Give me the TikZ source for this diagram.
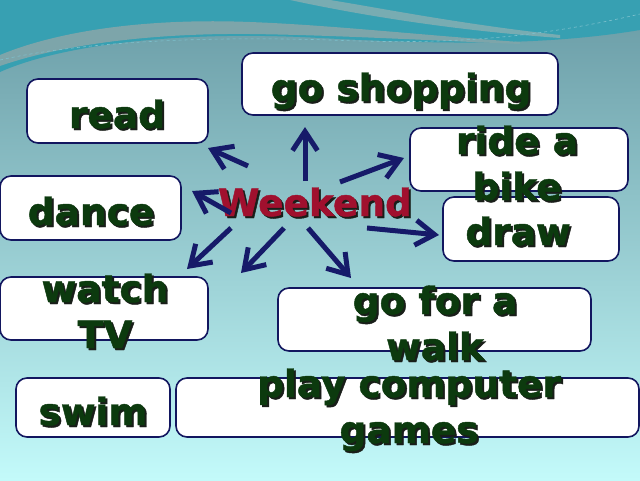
\documentclass[tikz,border=0pt]{standalone}
\usepackage{fontspec}
\setmainfont{DejaVu Sans}[BoldFeatures={FakeBold=1.2}]
\usetikzlibrary{arrows.meta}
\definecolor{txtgreen}{RGB}{12,58,14}
\definecolor{shcol}{RGB}{25,30,25}
\definecolor{wkred}{RGB}{160,16,46}
\definecolor{navy}{RGB}{22,26,105}
\definecolor{boxline}{RGB}{18,22,95}
\definecolor{bgtop}{RGB}{105,155,165}
\definecolor{bgmid}{RGB}{148,202,207}
\definecolor{bgbot}{RGB}{195,250,250}
\definecolor{tealband}{RGB}{55,160,178}
\definecolor{swoosh}{RGB}{125,165,170}
\definecolor{swooshb}{RGB}{120,172,178}
\newcommand\shtxt[1]{\leavevmode\rlap{\kern2pt\raisebox{-2pt}{\color{shcol}#1}}#1}
\begin{document}
\begin{tikzpicture}[x=1pt,y=-1pt,
  box/.style={draw=boxline, line width=1.6pt, fill=white, rounded corners=11pt, inner sep=0pt},
  lbl/.style={font=\fontsize{37.5}{46}\selectfont\bfseries, text=txtgreen, align=center, inner sep=0pt, anchor=base},
  wk/.style={lbl, text=wkred},
  arr/.style={draw=navy, line width=5pt, -{Straight Barb[length=19pt,width=25pt]}}]
\useasboundingbox (0,0) rectangle (640,480);
% background
\shade[top color=bgtop, middle color=bgmid, bottom color=bgbot] (0,0) rectangle (640,480);
\fill[tealband] (0,0) -- (0,72) .. controls (60,45) and (180,30) .. (320,38) .. controls (450,45) and (550,45) .. (640,30) -- (640,0) -- cycle;
\fill[swoosh] (0,55) .. controls (60,30) and (150,18) .. (250,22) .. controls (330,25) and (420,35) .. (520,42) -- (520,44) .. controls (420,40) and (330,35) .. (250,34) .. controls (150,33) and (60,45) .. (0,66) -- cycle;
\fill[swooshb] (290,0) .. controls (360,15) and (450,30) .. (560,38) -- (560,35) .. controls (460,24) and (380,8) .. (330,0) -- cycle;
\draw[dashed, white!35!tealband, line width=0.6pt] (0,60) .. controls (80,42) and (200,36) .. (330,40) .. controls (430,44) and (520,42) .. (640,14);
% boxes
\node[box, minimum width=316pt, minimum height=62pt] (shop) at (400,84) {};
\node[box, minimum width=181pt, minimum height=64pt] (read) at (117.5,111) {};
\node[box, minimum width=218pt, minimum height=63pt] (bike) at (519,159.5) {};
\node[box, minimum width=181pt, minimum height=64pt] (dance) at (90.5,208) {};
\node[box, minimum width=176pt, minimum height=64pt] (draw) at (531,229) {};
\node[box, minimum width=208pt, minimum height=63pt] (tv) at (104,308.5) {};
\node[box, minimum width=313pt, minimum height=63pt] (walk) at (434.5,319.5) {};
\node[box, minimum width=154pt, minimum height=59pt] (swim) at (93,407.5) {};
\node[box, minimum width=463pt, minimum height=59pt] (games) at (407.5,407.5) {};
% texts (anchor = baseline of the last line)
\node[lbl] (shop-t) at (401,101) {\shtxt{go shopping}};
\node[lbl] (read-t) at (117,128) {\shtxt{read}};
\node[lbl] (bike-t) at (517,200) {\shtxt{ride a}\\\shtxt{bike}};
\node[lbl] (dance-t) at (91,225) {\shtxt{dance}};
\node[lbl] (draw-t) at (518,245) {\shtxt{draw}};
\node[lbl] (tv-t) at (105,348) {\shtxt{watch}\\\shtxt{TV}};
\node[lbl] (walk-t) at (435,360) {\shtxt{go for a}\\\shtxt{walk}};
\node[lbl] (swim-t) at (93,425) {\shtxt{swim}};
\node[lbl] (games-t) at (409,443) {\shtxt{play computer}\\\shtxt{games}};
\node[wk] (week) at (315,216) {\shtxt{Weekend}};
% arrows
\coordinate (s1) at (305,181); \coordinate (e1) at (305,127);
\coordinate (s2) at (248,166); \coordinate (e2) at (208,148);
\coordinate (s3) at (231,213); \coordinate (e3) at (192,191);
\coordinate (s4) at (231,228); \coordinate (e4) at (187,269);
\coordinate (s5) at (284,228); \coordinate (e5) at (241,273);
\coordinate (s6) at (308,228); \coordinate (e6) at (351,278);
\coordinate (s7) at (340,182); \coordinate (e7) at (404,158);
\coordinate (s8) at (367,228); \coordinate (e8) at (439,235);
\foreach \i in {1,...,8} \draw[arr] (s\i) -- (e\i);
\end{tikzpicture}
\end{document}
